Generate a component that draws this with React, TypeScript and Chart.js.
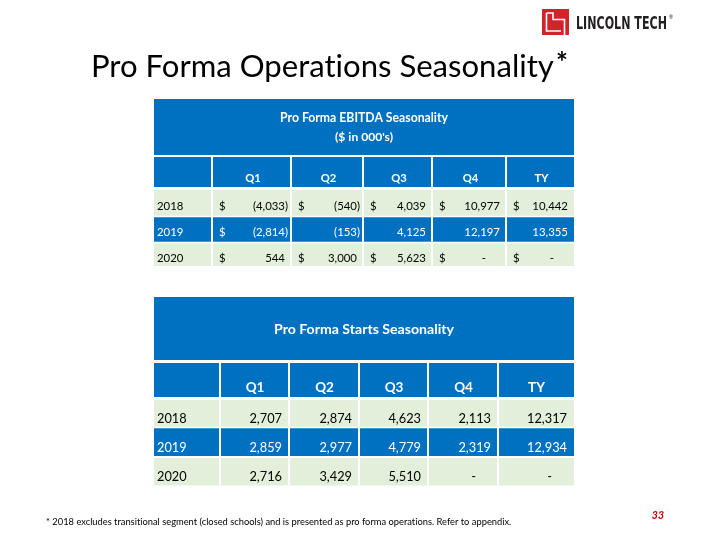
import React, { useEffect, useRef } from "react";
import { Chart, registerables } from "chart.js";

Chart.register(...registerables);

// ---------------- data ----------------
const pageTitle = "Pro Forma Operations Seasonality";
const columnLabels = ["Q1", "Q2", "Q3", "Q4", "TY"];
const yearLabels = ["2018", "2019", "2020"];

const ebitdaTitle = ["Pro Forma EBITDA Seasonality", "($ in 000's)"];
const ebitda2018: (number | null)[] = [-4033, -540, 4039, 10977, 10442];
const ebitda2019: (number | null)[] = [-2814, -153, 4125, 12197, 13355];
const ebitda2020: (number | null)[] = [544, 3000, 5623, null, null];
const ebitdaDollar2018 = [true, true, true, true, true];
const ebitdaDollar2019 = [true, false, false, false, false];
const ebitdaDollar2020 = [true, true, true, true, true];

const startsTitle = ["Pro Forma Starts Seasonality"];
const starts2018: (number | null)[] = [2707, 2874, 4623, 2113, 12317];
const starts2019: (number | null)[] = [2859, 2977, 4779, 2319, 12934];
const starts2020: (number | null)[] = [2716, 3429, 5510, null, null];

const footnote =
  "* 2018 excludes transitional segment (closed schools) and is presented as pro forma operations. Refer to appendix.";
const pageNumber = "33";
const logoText = "LINCOLN TECH";

// ---------------- styles / layout ----------------
const BLUE = "#0070C0";
const GREEN = "#E2EFDA";
const RED = "#D2232A";
const FONT = "Lato, 'Open Sans', sans-serif";

type Layout = {
  cols: number[];
  rows: number[];
  hGaps: number[];
  titleCenters: number[];
  titleWidths: number[];
  headBase: number;
  headSize: number;
  headDx: number;
  dataBases: number[];
  dataSize: number;
  accounting: boolean;
  numPad: number;
  dashPad: number;
};

const T1: Layout = {
  cols: [154, 212, 291, 363, 432, 506, 574],
  rows: [99, 156, 188.5, 216.5, 242.5, 266],
  hGaps: [2, 3, 1.5, 1.5],
  titleCenters: [118, 137.5],
  titleWidths: [168, 58],
  headBase: 182,
  headSize: 11.2,
  headDx: 1.5,
  dataBases: [209.5, 236, 262],
  dataSize: 11.4,
  accounting: true,
  numPad: 3,
  dashPad: 20,
};

const T2: Layout = {
  cols: [154, 220, 289, 359, 428, 498, 574],
  rows: [297, 361.5, 398.5, 427.5, 457, 485.5],
  hGaps: [3, 3, 1.5, 2],
  titleCenters: [329],
  titleWidths: [180],
  headBase: 392,
  headSize: 13.5,
  headDx: 0.5,
  dataBases: [423, 452, 481],
  dataSize: 12.8,
  accounting: false,
  numPad: 7,
  dashPad: 22,
};

type RowSpec = {
  label: string;
  values: (number | null)[];
  dollars: boolean[] | null;
  bg: string;
  color: string;
};

const fmt = (v: number) => Math.abs(v).toLocaleString("en-US");
// break the "ti" ligature of Lato so glyphs look like the original
const noLig = (s: string) => s.replace(/t(?=i)/g, "t\u200C");

function fitSize(ctx: CanvasRenderingContext2D, text: string, weight: string, target: number) {
  ctx.font = `${weight} 20px ${FONT}`;
  const w = ctx.measureText(noLig(text)).width;
  return (20 * target) / w;
}

function drawTable(
  ctx: CanvasRenderingContext2D,
  X: (v: number) => number,
  Y: (v: number) => number,
  L: Layout,
  titleLines: string[],
  rows: RowSpec[]
) {
  const { cols, rows: rb } = L;
  const left = cols[0];
  const right = cols[cols.length - 1];
  const w = X(right) - X(left);

  // backgrounds
  ctx.fillStyle = BLUE;
  ctx.fillRect(X(left), Y(rb[0]), w, Y(rb[2]) - Y(rb[0]));
  rows.forEach((r, i) => {
    ctx.fillStyle = r.bg;
    ctx.fillRect(X(left), Y(rb[2 + i]), w, Y(rb[3 + i]) - Y(rb[2 + i]));
  });

  // white grid
  ctx.strokeStyle = "#ffffff";
  for (let i = 1; i < rb.length - 1; i++) {
    ctx.lineWidth = L.hGaps[i - 1];
    ctx.beginPath();
    ctx.moveTo(X(left), Y(rb[i]));
    ctx.lineTo(X(right), Y(rb[i]));
    ctx.stroke();
  }
  ctx.lineWidth = 2;
  for (let c = 1; c < cols.length - 1; c++) {
    ctx.beginPath();
    ctx.moveTo(X(cols[c]), Y(rb[1]));
    ctx.lineTo(X(cols[c]), Y(rb[rb.length - 1]));
    ctx.stroke();
  }

  // title
  ctx.fillStyle = "#ffffff";
  ctx.textAlign = "center";
  ctx.textBaseline = "middle";
  titleLines.forEach((t, i) => {
    const s = fitSize(ctx, t, "700", L.titleWidths[i]);
    ctx.font = `700 ${s}px ${FONT}`;
    ctx.fillText(noLig(t), X((left + right) / 2), Y(L.titleCenters[i]));
  });

  // header labels
  ctx.textBaseline = "alphabetic";
  ctx.font = `700 ${L.headSize}px ${FONT}`;
  columnLabels.forEach((lab, c) => {
    const cx = (cols[c + 1] + cols[c + 2]) / 2 + L.headDx;
    ctx.fillText(lab, X(cx), Y(L.headBase));
  });

  // data rows
  ctx.font = `400 ${L.dataSize}px ${FONT}`;
  const parenW = ctx.measureText(")").width;
  rows.forEach((r, i) => {
    const base = Y(L.dataBases[i]);
    ctx.fillStyle = r.color;
    ctx.textAlign = "left";
    ctx.fillText(r.label, X(left + 3), base);
    r.values.forEach((v, c) => {
      const cl = cols[c + 1];
      const cr = cols[c + 2];
      if (r.dollars && r.dollars[c]) {
        ctx.textAlign = "left";
        ctx.fillText("$", X(cl + 7), base);
      }
      ctx.textAlign = "right";
      if (v === null) {
        ctx.fillText("-", X(cr - L.dashPad), base);
      } else if (L.accounting) {
        if (v < 0) ctx.fillText(`(${fmt(v)})`, X(cr - L.numPad), base);
        else ctx.fillText(fmt(v), X(cr - L.numPad) - parenW, base);
      } else {
        ctx.fillText(fmt(v), X(cr - L.numPad), base);
      }
    });
  });
}

function drawSlide(chart: any) {
  const ctx: CanvasRenderingContext2D = chart.ctx;
  const X = (v: number) => chart.scales.x.getPixelForValue(v);
  const Y = (v: number) => chart.scales.y.getPixelForValue(v);
  ctx.save();

  // logo
  ctx.fillStyle = RED;
  ctx.fillRect(X(542), Y(9), X(569) - X(542), Y(35) - Y(9));
  ctx.strokeStyle = "#ffffff";
  ctx.lineWidth = 1.6;
  ctx.beginPath();
  ctx.moveTo(X(546.5), Y(13));
  ctx.lineTo(X(546.5), Y(31));
  ctx.lineTo(X(561), Y(31));
  ctx.moveTo(X(546.5), Y(13));
  ctx.lineTo(X(553), Y(13));
  ctx.lineTo(X(553), Y(19.5));
  ctx.lineTo(X(564.5), Y(19.5));
  ctx.lineTo(X(564.5), Y(35));
  ctx.stroke();

  ctx.fillStyle = "#231F20";
  ctx.font = `700 18px 'DejaVu Sans', ${FONT}`;
  ctx.textAlign = "left";
  ctx.textBaseline = "alphabetic";
  const lw = ctx.measureText(logoText).width;
  ctx.save();
  ctx.translate(X(576), Y(29));
  ctx.scale((X(667) - X(576)) / lw, 1);
  ctx.fillText(logoText, 0, 0);
  ctx.restore();
  ctx.font = `400 5px ${FONT}`;
  ctx.fillText("®", X(669), Y(19));

  // page title
  ctx.fillStyle = "#000000";
  const ts = fitSize(ctx, pageTitle, "400", 463);
  ctx.font = `400 ${ts}px ${FONT}`;
  ctx.fillText(noLig(pageTitle), X(91), Y(77));
  ctx.font = `700 28px ${FONT}`;
  ctx.fillText("*", X(556), Y(72));

  // tables
  drawTable(ctx, X, Y, T1, ebitdaTitle, [
    { label: yearLabels[0], values: ebitda2018, dollars: ebitdaDollar2018, bg: GREEN, color: "#000000" },
    { label: yearLabels[1], values: ebitda2019, dollars: ebitdaDollar2019, bg: BLUE, color: "#ffffff" },
    { label: yearLabels[2], values: ebitda2020, dollars: ebitdaDollar2020, bg: GREEN, color: "#000000" },
  ]);
  drawTable(ctx, X, Y, T2, startsTitle, [
    { label: yearLabels[0], values: starts2018, dollars: null, bg: GREEN, color: "#000000" },
    { label: yearLabels[1], values: starts2019, dollars: null, bg: BLUE, color: "#ffffff" },
    { label: yearLabels[2], values: starts2020, dollars: null, bg: GREEN, color: "#000000" },
  ]);

  // footnote
  ctx.fillStyle = "#000000";
  ctx.textAlign = "left";
  ctx.textBaseline = "alphabetic";
  const fs = fitSize(ctx, footnote, "400", 466);
  ctx.font = `400 ${fs}px ${FONT}`;
  ctx.fillText(noLig(footnote), X(46), Y(525));

  // page number
  ctx.fillStyle = "#C00000";
  ctx.font = `italic 700 10.5px ${FONT}`;
  ctx.textAlign = "right";
  ctx.fillText(pageNumber, X(664), Y(519));

  ctx.restore();
}

export default function App() {
  const ref = useRef<HTMLCanvasElement>(null);
  useEffect(() => {
    const canvas = ref.current;
    if (!canvas) return;
    const slidePlugin = {
      id: "slide",
      afterDraw(chart: any) {
        drawSlide(chart);
      },
    };
    const chart = new Chart(canvas, {
      type: "scatter",
      data: { datasets: [{ data: [] }] },
      options: {
        animation: false,
        responsive: false,
        devicePixelRatio: 1,
        layout: { padding: 0 },
        events: [],
        plugins: { legend: { display: false }, tooltip: { enabled: false } },
        scales: {
          x: { type: "linear", min: 0, max: 720, display: false },
          y: { type: "linear", min: 0, max: 540, reverse: true, display: false },
        },
      },
      plugins: [slidePlugin],
    });
    return () => chart.destroy();
  }, []);
  return (
    <div style={{ position: "absolute", left: 0, top: 0, width: 720, height: 540, background: "#ffffff" }}>
      <canvas ref={ref} width={720} height={540} style={{ display: "block" }} />
    </div>
  );
}
